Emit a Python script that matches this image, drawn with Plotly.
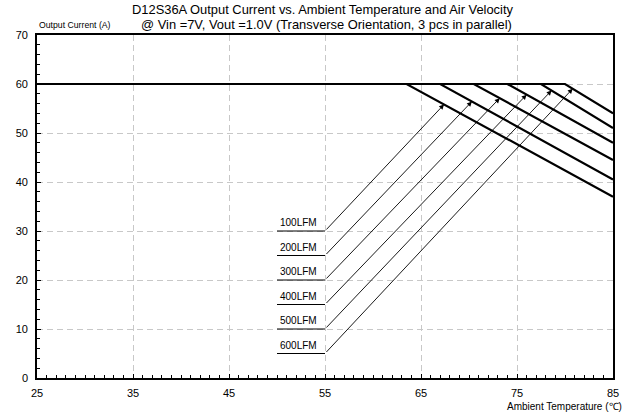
import plotly.graph_objects as go

# Derating curves: full 60 A up to the knee temperature, then linear down to 85 °C
air_flow = ["100LFM", "200LFM", "300LFM", "400LFM", "500LFM", "600LFM"]
knee_temp = [63.5, 67.0, 70.5, 74.0, 77.5, 80.0]
current_at_85 = [37.0, 40.5, 44.5, 48.0, 51.0, 54.0]
max_current = 60.0
temp_start = 25.0
temp_end = 85.0

# Callout labels: leader level (A) and the temperature where each arrow meets its curve
label_level = [30, 25, 20, 15, 10, 5]
arrow_temp = [67.4, 70.3, 73.2, 76.0, 78.6, 80.8]
leader_from = 50.0
leader_to = 55.0

x_ticks = [25, 35, 45, 55, 65, 75, 85]
y_ticks = [0, 10, 20, 30, 40, 50, 60, 70]

FONT = "Arial, Liberation Sans, sans-serif"
W, H = 631, 417
M_L, M_R, M_T, M_B = 37, 14, 35, 39


def curve_value(i, t):
    if t <= knee_temp[i]:
        return max_current
    slope = (current_at_85[i] - max_current) / (temp_end - knee_temp[i])
    return max_current + slope * (t - knee_temp[i])


def px_to_paper(px, py):
    plot_w = W - M_L - M_R
    plot_h = H - M_T - M_B
    return (px - M_L) / plot_w, (H - M_B - py) / plot_h


fig = go.Figure()

for i, name in enumerate(air_flow):
    fig.add_trace(go.Scatter(
        x=[temp_start, knee_temp[i], temp_end],
        y=[max_current, max_current, current_at_85[i]],
        mode="lines", line=dict(color="black", width=2.2),
        name=name, showlegend=False, hoverinfo="skip",
    ))
    # underline beneath each label
    fig.add_trace(go.Scatter(
        x=[leader_from, leader_to], y=[label_level[i], label_level[i]],
        mode="lines", line=dict(color="black", width=1),
        showlegend=False, hoverinfo="skip",
    ))

annotations = []
for i, name in enumerate(air_flow):
    annotations.append(dict(
        x=(leader_from + leader_to) / 2 - 0.3, y=label_level[i],
        xref="x", yref="y", text=name, showarrow=False,
        xanchor="center", yanchor="bottom", yshift=1,
        font=dict(family=FONT, size=10, color="black"),
    ))
    annotations.append(dict(
        x=arrow_temp[i], y=curve_value(i, arrow_temp[i]),
        xref="x", yref="y", ax=leader_to, ay=label_level[i],
        axref="x", ayref="y", text="", showarrow=True,
        arrowhead=2, arrowsize=1.1, arrowwidth=0.9, arrowcolor="black",
        standoff=0, startstandoff=0,
    ))

tx, ty = px_to_paper(325, 9)
annotations.append(dict(text="D12S36A Output Current vs. Ambient Temperature and Air Velocity",
                        x=tx, y=ty, xref="paper", yref="paper", showarrow=False,
                        xanchor="center", yanchor="middle",
                        font=dict(family=FONT, size=12.9, color="black")))
tx, ty = px_to_paper(329, 24)
annotations.append(dict(text="@ Vin =7V, Vout =1.0V (Transverse Orientation, 3 pcs in parallel)",
                        x=tx, y=ty, xref="paper", yref="paper", showarrow=False,
                        xanchor="center", yanchor="middle",
                        font=dict(family=FONT, size=12.9, color="black")))
tx, ty = px_to_paper(37, 25)
annotations.append(dict(text="Output Current (A)", x=tx, y=ty, xref="paper", yref="paper",
                        showarrow=False, xanchor="left", yanchor="middle",
                        font=dict(family=FONT, size=8.7, color="black")))
tx, ty = px_to_paper(628, 406)
annotations.append(dict(text="Ambient Temperature (℃)", x=tx, y=ty, xref="paper", yref="paper",
                        showarrow=False, xanchor="right", yanchor="middle",
                        font=dict(family=FONT, size=10, color="black")))

fig.update_layout(
    width=W, height=H,
    margin=dict(l=M_L, r=M_R, t=M_T, b=M_B),
    paper_bgcolor="white", plot_bgcolor="white",
    font=dict(family=FONT, size=11, color="black"),
    showlegend=False,
    annotations=annotations,
)

fig.update_xaxes(
    range=[temp_start, temp_end], tickvals=x_ticks, ticktext=[str(v) for v in x_ticks],
    showgrid=True, gridcolor="#c8c8c8", griddash="6px,4px", gridwidth=1,
    showline=True, linecolor="black", linewidth=1.6, mirror=True,
    ticks="inside", ticklen=4, tickcolor="black", zeroline=False,
    minor=dict(dtick=1, ticks="inside", ticklen=3, tickcolor="black", showgrid=False),
    tickfont=dict(family=FONT, size=11), ticklabelstandoff=4,
)
fig.update_yaxes(
    range=[0, 70], tickvals=y_ticks, ticktext=[str(v) for v in y_ticks],
    showgrid=True, gridcolor="#c8c8c8", griddash="6px,4px", gridwidth=1,
    showline=True, linecolor="black", linewidth=1.6, mirror=True,
    ticks="inside", ticklen=4, tickcolor="black", zeroline=False,
    minor=dict(dtick=2, ticks="inside", ticklen=3, tickcolor="black", showgrid=False),
    tickfont=dict(family=FONT, size=11), ticklabelstandoff=5,
)

fig.write_html("out.html")
